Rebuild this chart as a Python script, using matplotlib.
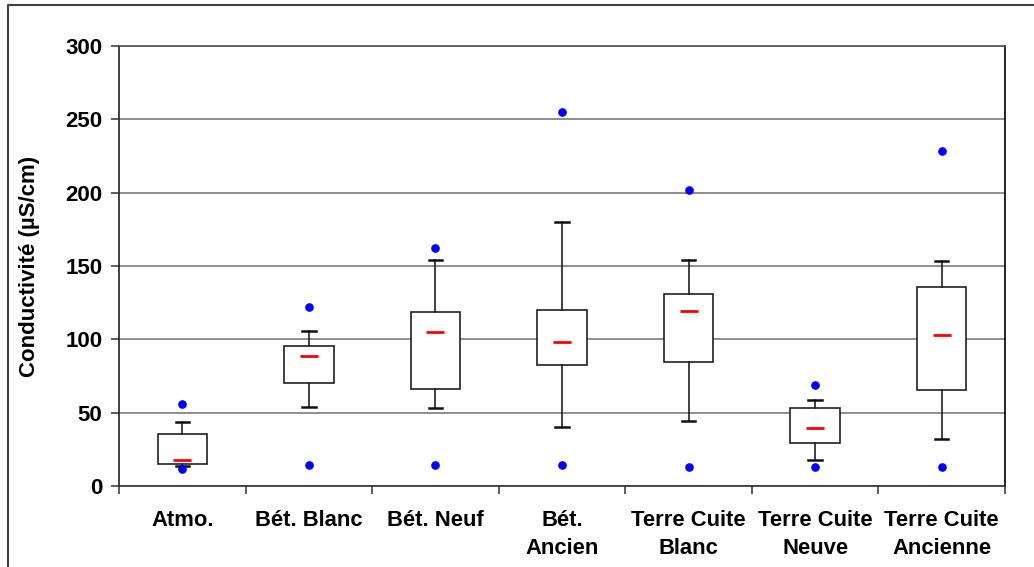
import matplotlib
matplotlib.use("Agg")
import matplotlib.pyplot as plt
from matplotlib.lines import Line2D
import numpy as np

categories = ['Atmo.', 'Bét. Blanc', 'Bét. Neuf', 'Bét.\nAncien',
              'Terre Cuite\nBlanc', 'Terre Cuite\nNeuve', 'Terre Cuite\nAncienne']
whisker_low = [13.6, 53.9, 53.4, 40.0, 44.3, 17.7, 31.8]
q1 = [15.0, 70.0, 66.1, 82.5, 84.3, 29.1, 65.2]
median = [17.7, 88.6, 104.8, 98.2, 119.5, 39.5, 103.0]
q3 = [35.7, 95.7, 118.6, 119.8, 130.7, 53.4, 135.5]
whisker_high = [43.6, 106.0, 154.0, 180.0, 153.9, 58.4, 153.4]
point_max = [55.7, 122.0, 162.0, 254.8, 202.0, 68.6, 228.6]
point_min = [11.6, 14.1, 14.1, 14.1, 12.7, 12.7, 12.7]
y_ticks = [0, 50, 100, 150, 200, 250, 300]
y_label = 'Conductivité (µS/cm)'

plt.rcParams['font.family'] = ['Liberation Sans', 'DejaVu Sans']
plt.rcParams['font.weight'] = 'bold'

fig = plt.figure(figsize=(10.34, 5.67), dpi=100)
ax = fig.add_axes([119/1034, 81/567, (1005-119)/1034, (486-46)/567])

pos = np.arange(len(categories))
stats = []
for i in range(len(categories)):
    stats.append(dict(med=median[i], q1=q1[i], q3=q3[i],
                      whislo=whisker_low[i], whishi=whisker_high[i],
                      fliers=[]))
ax.bxp(stats, positions=pos, widths=0.39, capwidths=0.105, patch_artist=True,
       showfliers=False,
       boxprops=dict(facecolor='white', edgecolor='#202020', linewidth=1.2),
       whiskerprops=dict(color='#202020', linewidth=1.2),
       capprops=dict(color='#101010', linewidth=1.8),
       medianprops=dict(linewidth=0),
       zorder=3)
ax.plot(pos, median, ls='none', marker='_', ms=13, mew=2, color='#ff0000', zorder=4)
ax.plot(pos, point_max, ls='none', marker='o', ms=5.2, color='#0000ff', zorder=4)
ax.plot(pos, point_min, ls='none', marker='o', ms=5.2, color='#0000ff', zorder=4)

ax.set_xlim(-0.5, len(categories) - 0.5)
ax.set_ylim(0, 300)
ax.set_yticks(y_ticks)
ax.set_yticklabels([str(t) for t in y_ticks], fontsize=16, fontweight='bold')
ax.yaxis.grid(True, color='#707070', linewidth=1.1)
ax.set_axisbelow(True)

ax.set_xticks(np.arange(len(categories) + 1) - 0.5)
ax.set_xticklabels([])
ax.set_xticks(pos, minor=True)
ax.set_xticklabels(categories, minor=True, fontsize=15.8, fontweight='bold',
                   linespacing=1.45)
ax.tick_params(axis='x', which='major', length=6, width=1.1, color='#303030', direction='out')
ax.tick_params(axis='x', which='minor', length=0, pad=17)
ax.tick_params(axis='y', length=6, width=1.1, color='#303030', direction='out', pad=6)

ax.spines['top'].set_color('#505050')
ax.spines['left'].set_color('#202020')
ax.spines['bottom'].set_color('#303030')
ax.spines['right'].set_color('#000000')
for s in ax.spines.values():
    s.set_linewidth(1.2)

ax.set_ylabel(y_label, fontsize=16, fontweight='bold')
ax.yaxis.set_label_coords(-79/886, 0.5)

# outer chart frame (left and top edges visible)
fig.add_artist(Line2D([8/1034, 8/1034, 1.0], [0.0, 1 - 5/567, 1 - 5/567],
                      transform=fig.transFigure, color='#404040', linewidth=1.5))

fig.savefig('out.png', dpi=100)
